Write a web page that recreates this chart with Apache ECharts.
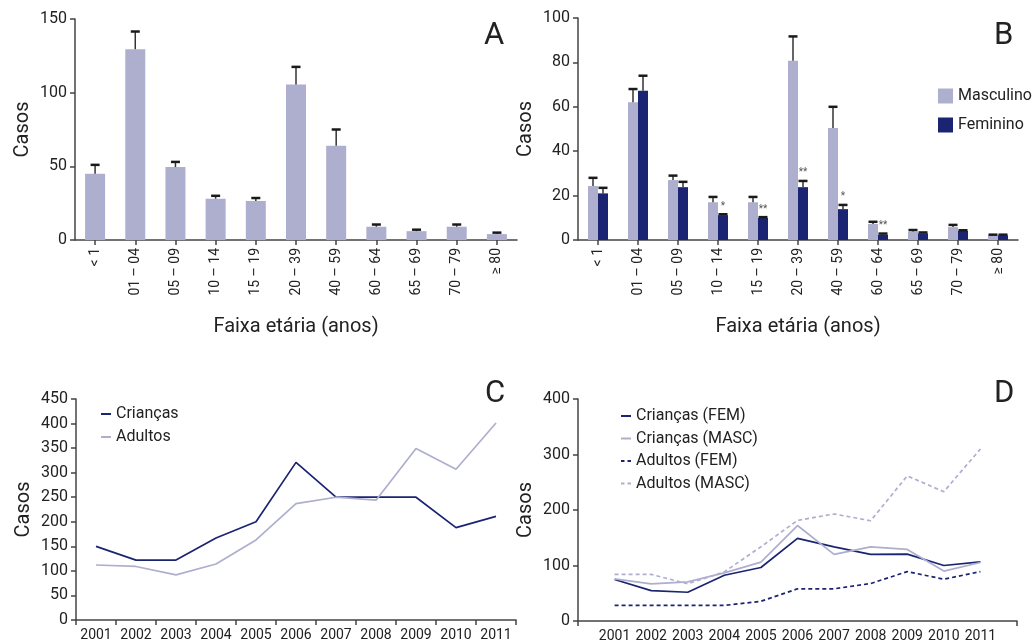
<!DOCTYPE html>
<html><head><meta charset="utf-8">
<script src="https://cdn.jsdelivr.net/npm/echarts@6/dist/echarts.min.js"></script>
<style>html,body{margin:0;padding:0;background:#fff}#c{width:1034px;height:644px}</style>
</head><body><div id="c"></div>
<script>
// ---- Data ----
var ageGroups = ['< 1', '01 – 04', '05 – 09', '10 – 14', '15 – 19', '20 – 39', '40 – 59', '60 – 64', '65 – 69', '70 – 79', '≥ 80'];
// Panel A: all cases (mean and upper error)
var totalCases = [45, 129.5, 49.5, 28, 26.5, 105.5, 64, 9, 6, 9, 4];
var totalErr   = [51, 141.5, 53, 30, 28.5, 117.5, 75, 10.5, 7, 10.5, 5];
// Panel B: by sex
var mascCases = [24.3, 62, 27, 17, 17, 80.7, 50.5, 7.2, 3.8, 5.8, 2.1];
var mascErr   = [28, 68, 29, 19.4, 19.4, 91.7, 60, 8.2, 4.5, 6.8, 2.4];
var femCases  = [21, 67.2, 23.8, 11.2, 9.9, 23.8, 13.9, 2.4, 3, 4.1, 2.1];
var femErr    = [23.5, 74, 26.2, 11.6, 10.3, 26.6, 15.8, 2.9, 3.4, 4.4, 2.4];
var femSig    = ['', '', '', '*', '**', '**', '*', '**', '', '', ''];
// Panel C: by year
var years = ['2001', '2002', '2003', '2004', '2005', '2006', '2007', '2008', '2009', '2010', '2011'];
var children = [150, 122, 122, 167, 200, 321, 250, 250, 250, 188, 211];
var adults   = [112, 109, 92, 114, 163, 237, 250, 244, 349, 307, 401];
// Panel D: by year and sex
var yearNums = [2001, 2002, 2003, 2004, 2005, 2006, 2007, 2008, 2009, 2010, 2011];
var childFem  = [74.7, 54.8, 51.8, 82.5, 96.4, 148.8, 133.7, 120, 120.5, 100, 106.6];
var childMasc = [76, 67, 70.5, 86.7, 106, 172, 120, 133.7, 129, 90, 105.4];
var adultFem  = [28, 28, 28, 28, 35.5, 58, 58, 67.5, 89, 75.3, 89];
var adultMasc = [84, 84, 67, 88.6, 133.7, 181.3, 192.8, 180.7, 261.4, 233, 310];

var LIGHT = '#aeaecf', DARK = '#1b2472';
var FONT = 'Roboto';
var AX = '#444', TXT = '#222';

function pairs(xs, ys) { return xs.map(function (x, i) { return [x, ys[i]]; }); }
function errData(vals, errs) {
  return vals.map(function (v, i) { return [i, v, errs[i]]; });
}
function errRender(dx, sig) {
  return function (params, api) {
    var i = api.value(0);
    var b = api.coord([i, api.value(1)]);
    var t = api.coord([i, api.value(2)]);
    var x = b[0] + dx;
    var kids = [
      { type: 'line', shape: { x1: x, y1: b[1], x2: x, y2: t[1] }, style: { stroke: '#333', lineWidth: 1.5 } },
      { type: 'line', shape: { x1: x - 4.5, y1: t[1], x2: x + 4.5, y2: t[1] }, style: { stroke: '#1a1a1a', lineWidth: 2.5 } }
    ];
    var s = sig ? sig[params.dataIndex] : '';
    if (s) {
      kids.push({ type: 'text', style: { x: x, y: t[1] - 3, text: s, fill: '#555', fontSize: 10, fontFamily: FONT, align: 'center', verticalAlign: 'bottom' } });
    }
    return { type: 'group', children: kids };
  };
}

var axisLineStyle = { lineStyle: { color: AX, width: 1.5 } };
var tickStyle = { show: true, length: 5, lineStyle: { color: AX, width: 1.5 } };

function catAxisBars(gi) {
  return {
    type: 'category', gridIndex: gi, data: ageGroups,
    axisLine: axisLineStyle, axisTick: Object.assign({ alignWithLabel: true }, tickStyle),
    axisLabel: { rotate: 90, interval: 0, fontSize: 14, color: TXT, fontFamily: FONT, margin: 8 },
    name: 'Faixa etária (anos)', nameLocation: 'middle', nameGap: 77,
    nameTextStyle: { fontSize: 20, color: TXT, fontFamily: FONT }
  };
}
function valAxis(gi, max, interval) {
  return {
    type: 'value', gridIndex: gi, min: 0, max: max, interval: interval,
    axisLine: Object.assign({ show: true }, axisLineStyle), axisTick: tickStyle,
    splitLine: { show: false },
    axisLabel: { fontSize: 16, color: TXT, fontFamily: FONT, margin: 8 },
    name: 'Casos', nameLocation: 'middle', nameGap: 42,
    nameTextStyle: { fontSize: 20, color: TXT, fontFamily: FONT }
  };
}
var solidIcon = 'path://M0,0 L10,0 L10,2 L0,2 Z';
var dashIcon = 'path://M0,0 L3.5,0 L3.5,2 L0,2 Z M6.5,0 L10,0 L10,2 L6.5,2 Z';
var legText = { fontSize: 16, color: TXT, fontFamily: FONT, lineHeight: 20 };

var option = {
  animation: false,
  textStyle: { fontFamily: FONT },
  grid: [
    { left: 75, top: 19, width: 442, height: 221 },
    { left: 578, top: 18, width: 440, height: 222 },
    { left: 76, top: 399, width: 440, height: 221 },
    { left: 578, top: 399, width: 439, height: 222 }
  ],
  xAxis: [
    catAxisBars(0),
    catAxisBars(1),
    {
      type: 'category', gridIndex: 2, data: years,
      axisLine: axisLineStyle, axisTick: Object.assign({ interval: 0 }, tickStyle),
      axisLabel: { interval: 0, fontSize: 14, color: TXT, fontFamily: FONT, margin: 8 }
    },
    {
      type: 'value', gridIndex: 3, min: 2000, max: 2012, interval: 1,
      axisLine: axisLineStyle, splitLine: { show: false },
      axisTick: Object.assign({ customValues: [2000, 2012] }, tickStyle),
      axisLabel: { customValues: yearNums, fontSize: 14, color: TXT, fontFamily: FONT, margin: 8,
        formatter: function (v) { return String(v); } }
    }
  ],
  yAxis: [valAxis(0, 150, 50), valAxis(1, 100, 20), valAxis(2, 450, 50), valAxis(3, 400, 100)],
  legend: [
    { data: ['Masculino', 'Feminino'], orient: 'vertical', left: 933, top: 83, icon: 'rect',
      itemWidth: 15, itemHeight: 15, itemGap: 13, textStyle: { fontSize: 16, color: TXT, fontFamily: FONT } },
    { data: [{ name: 'Crianças', icon: solidIcon }, { name: 'Adultos', icon: solidIcon }],
      orient: 'vertical', left: 96, top: 399,
      itemWidth: 10, itemHeight: 2, itemGap: 3, textStyle: legText },
    { data: [{ name: 'Crianças (FEM)', icon: solidIcon }, { name: 'Crianças (MASC)', icon: solidIcon },
             { name: 'Adultos (FEM)', icon: dashIcon }, { name: 'Adultos (MASC)', icon: dashIcon }],
      orient: 'vertical', left: 616, top: 401,
      itemWidth: 10, itemHeight: 2, itemGap: 2.5, textStyle: legText }
  ],
  graphic: [
    { type: 'text', left: 484, top: 21, style: { text: 'A', fontSize: 31, fill: TXT, fontFamily: FONT } },
    { type: 'text', left: 994, top: 21, style: { text: 'B', fontSize: 31, fill: TXT, fontFamily: FONT } },
    { type: 'text', left: 485, top: 379, style: { text: 'C', fontSize: 31, fill: TXT, fontFamily: FONT } },
    { type: 'text', left: 994, top: 379, style: { text: 'D', fontSize: 31, fill: TXT, fontFamily: FONT } }
  ],
  series: [
    { type: 'bar', xAxisIndex: 0, yAxisIndex: 0, data: totalCases, barWidth: 20, itemStyle: { color: LIGHT } },
    { type: 'custom', xAxisIndex: 0, yAxisIndex: 0, data: errData(totalCases, totalErr), encode: { x: 0, y: [1, 2] }, renderItem: errRender(0), z: 5 },

    { name: 'Masculino', type: 'bar', xAxisIndex: 1, yAxisIndex: 1, data: mascCases, barWidth: 10, barGap: '0%', itemStyle: { color: LIGHT } },
    { name: 'Feminino', type: 'bar', xAxisIndex: 1, yAxisIndex: 1, data: femCases, barWidth: 10, barGap: '0%', itemStyle: { color: DARK } },
    { type: 'custom', xAxisIndex: 1, yAxisIndex: 1, data: errData(mascCases, mascErr), encode: { x: 0, y: [1, 2] }, renderItem: errRender(-5), z: 5 },
    { type: 'custom', xAxisIndex: 1, yAxisIndex: 1, data: errData(femCases, femErr), encode: { x: 0, y: [1, 2] }, renderItem: errRender(5, femSig), z: 5 },

    { name: 'Crianças', type: 'line', xAxisIndex: 2, yAxisIndex: 2, data: children, symbol: 'none', lineStyle: { color: DARK, width: 1.7 }, itemStyle: { color: DARK } },
    { name: 'Adultos', type: 'line', xAxisIndex: 2, yAxisIndex: 2, data: adults, symbol: 'none', lineStyle: { color: LIGHT, width: 1.7 }, itemStyle: { color: LIGHT } },

    { name: 'Crianças (FEM)', type: 'line', xAxisIndex: 3, yAxisIndex: 3, data: pairs(yearNums, childFem), symbol: 'none', lineStyle: { color: DARK, width: 1.7 }, itemStyle: { color: DARK } },
    { name: 'Crianças (MASC)', type: 'line', xAxisIndex: 3, yAxisIndex: 3, data: pairs(yearNums, childMasc), symbol: 'none', lineStyle: { color: LIGHT, width: 1.7 }, itemStyle: { color: LIGHT } },
    { name: 'Adultos (FEM)', type: 'line', xAxisIndex: 3, yAxisIndex: 3, data: pairs(yearNums, adultFem), symbol: 'none', lineStyle: { color: DARK, width: 1.7, type: [4, 3] }, itemStyle: { color: DARK } },
    { name: 'Adultos (MASC)', type: 'line', xAxisIndex: 3, yAxisIndex: 3, data: pairs(yearNums, adultMasc), symbol: 'none', lineStyle: { color: LIGHT, width: 1.7, type: [4, 3] }, itemStyle: { color: LIGHT } }
  ]
};
var chart = echarts.init(document.getElementById('c'), null, { renderer: 'canvas' });
chart.setOption(option);
</script></body></html>
